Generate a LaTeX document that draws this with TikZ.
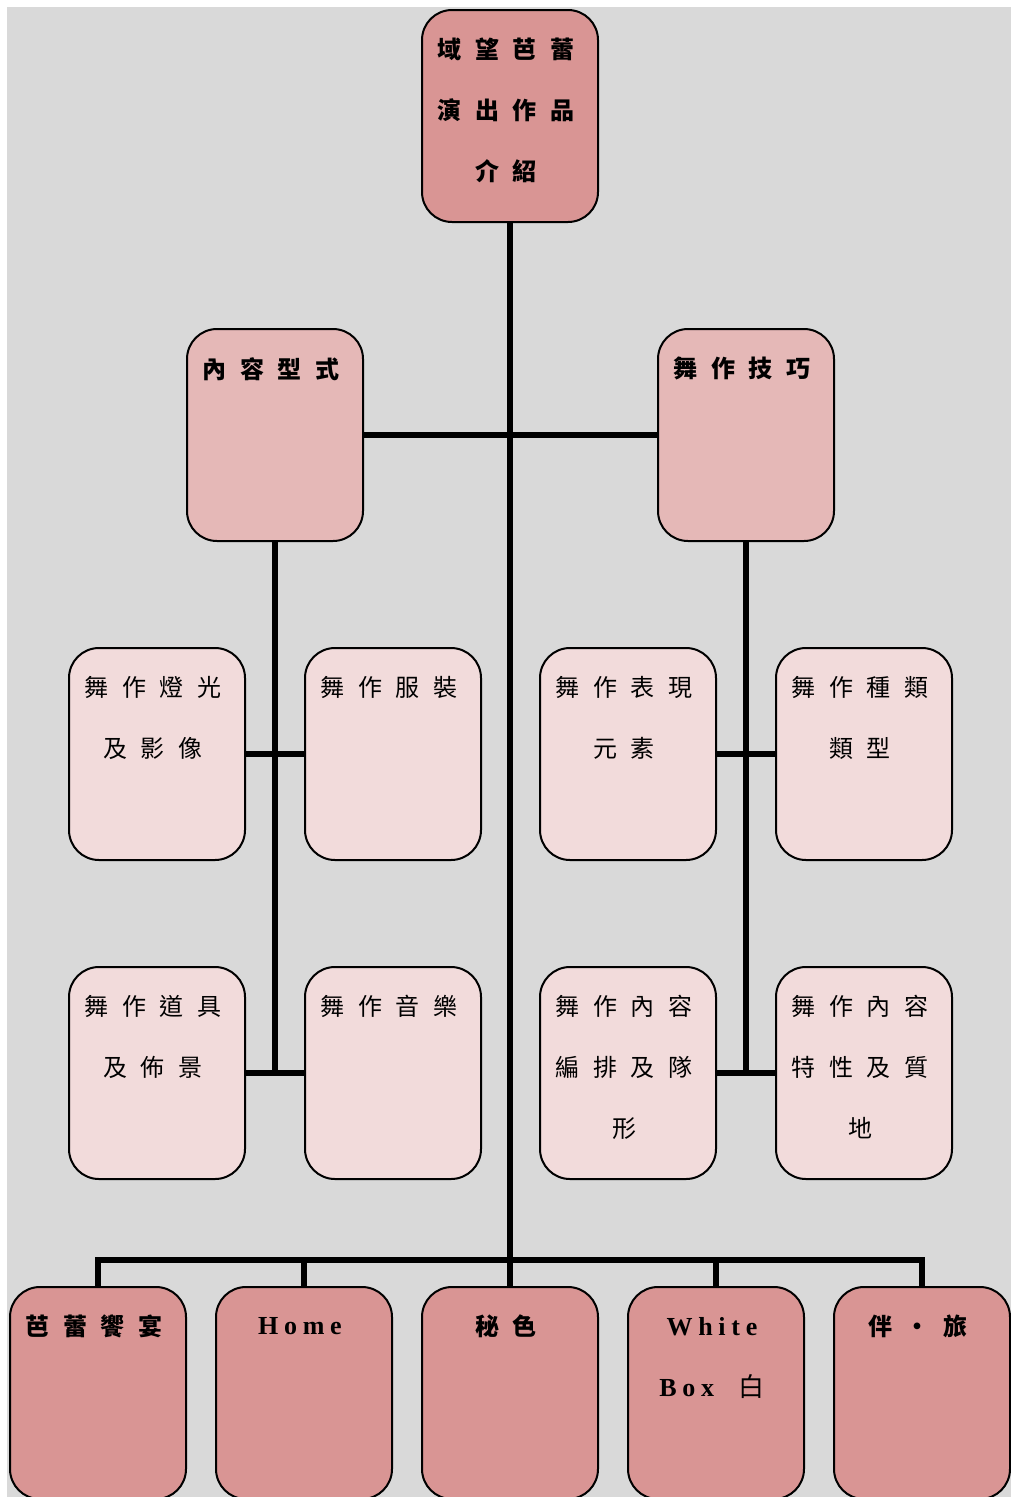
\documentclass[tikz,border=0pt]{standalone}
\usepackage{fontspec}
\setmainfont{Liberation Serif}
\newfontfamily\cjk[LetterSpace=34]{Noto Sans CJK TC}
\newfontfamily\latin[LetterSpace=22]{Liberation Serif}

\definecolor{bgGray}{HTML}{D9D9D9}
\definecolor{pinkDark}{HTML}{D99594}
\definecolor{pinkMid}{HTML}{E5B8B7}
\definecolor{pinkLight}{HTML}{F2DBDB}

\begin{document}
\begin{tikzpicture}[x=1pt, y=-1pt,
    box/.style={draw, line width=2pt, rounded corners=30pt, minimum width=176pt, minimum height=212pt, inner sep=0pt},
    link/.style={line width=6pt},
    head/.style={anchor=north, align=center, inner sep=0pt, xshift=-4pt, font=\cjk\bfseries\fontsize{24}{61}\selectfont},
    body/.style={anchor=north, align=center, inner sep=0pt, xshift=-4pt, font=\cjk\fontsize{24}{61}\selectfont},
    eng/.style={font=\latin\bfseries\fontsize{26}{61}\selectfont}]

    \useasboundingbox (0,0) rectangle (1011,1497);
    \fill[bgGray] (7,7) rectangle (1011,1497);

    % top
    \node[box, fill=pinkDark] (root) at (510,116) {};
    \node[head] (rootText) at ([yshift=-29pt]root.north) {域 望 芭 蕾\\演 出 作 品\\介 紹};

    % second level
    \node[box, fill=pinkMid] (content) at (275,435) {};
    \node[head] (contentText) at ([yshift=-29pt]content.north) {內 容 型 式};
    \node[box, fill=pinkMid] (skill) at (746,435) {};
    \node[head] (skillText) at ([yshift=-29pt]skill.north) {舞 作 技 巧};

    % third level
    \node[box, fill=pinkLight] (light) at (157,754) {};
    \node[body] (lightText) at ([yshift=-29pt]light.north) {舞 作 燈 光\\及 影 像};
    \node[box, fill=pinkLight] (costume) at (393,754) {};
    \node[body] (costumeText) at ([yshift=-29pt]costume.north) {舞 作 服 裝};
    \node[box, fill=pinkLight] (express) at (628,754) {};
    \node[body] (expressText) at ([yshift=-29pt]express.north) {舞 作 表 現\\元 素};
    \node[box, fill=pinkLight] (genre) at (864,754) {};
    \node[body] (genreText) at ([yshift=-29pt]genre.north) {舞 作 種 類\\類 型};

    % fourth level
    \node[box, fill=pinkLight] (props) at (157,1073) {};
    \node[body] (propsText) at ([yshift=-29pt]props.north) {舞 作 道 具\\及 佈 景};
    \node[box, fill=pinkLight] (music) at (393,1073) {};
    \node[body] (musicText) at ([yshift=-29pt]music.north) {舞 作 音 樂};
    \node[box, fill=pinkLight] (arrange) at (628,1073) {};
    \node[body] (arrangeText) at ([yshift=-29pt]arrange.north) {舞 作 內 容\\編 排 及 隊\\形};
    \node[box, fill=pinkLight] (quality) at (864,1073) {};
    \node[body] (qualityText) at ([yshift=-29pt]quality.north) {舞 作 內 容\\特 性 及 質\\地};

    % works
    \node[box, fill=pinkDark] (feast) at (98,1393) {};
    \node[head] (feastText) at ([yshift=-29pt]feast.north) {芭 蕾 饗 宴};
    \node[box, fill=pinkDark] (home) at (304,1393) {};
    \node[head, eng] (homeText) at ([yshift=-31pt]home.north) {Home};
    \node[box, fill=pinkDark] (secret) at (510,1393) {};
    \node[head] (secretText) at ([yshift=-29pt]secret.north) {秘 色};
    \node[box, fill=pinkDark] (white) at (716,1393) {};
    \node[head, eng] (whiteText) at ([yshift=-31pt]white.north) {White\\Box\ \ {\cjk\mdseries 白}};
    \node[box, fill=pinkDark] (journey) at (922,1393) {};
    \node[head] (journeyText) at ([yshift=-29pt]journey.north) {伴 · 旅};

    \coordinate (bar) at (510,1260);

    % connectors
    \draw[link] (root.south) -- (bar);
    \draw[link] (content.east) -- (skill.west);
    \draw[link] (content.south) -- (content.south |- props.east);
    \draw[link] (skill.south) -- (skill.south |- quality.west);
    \draw[link] (light.east) -- (costume.west);
    \draw[link] (props.east) -- (music.west);
    \draw[link] (express.east) -- (genre.west);
    \draw[link] (arrange.east) -- (quality.west);
    \draw[link] (feast.north) |- (bar) -| (journey.north);
    \foreach \n in {home, secret, white}
        \draw[link] (\n.north) -- (\n.north |- bar);

\end{tikzpicture}
\end{document}
